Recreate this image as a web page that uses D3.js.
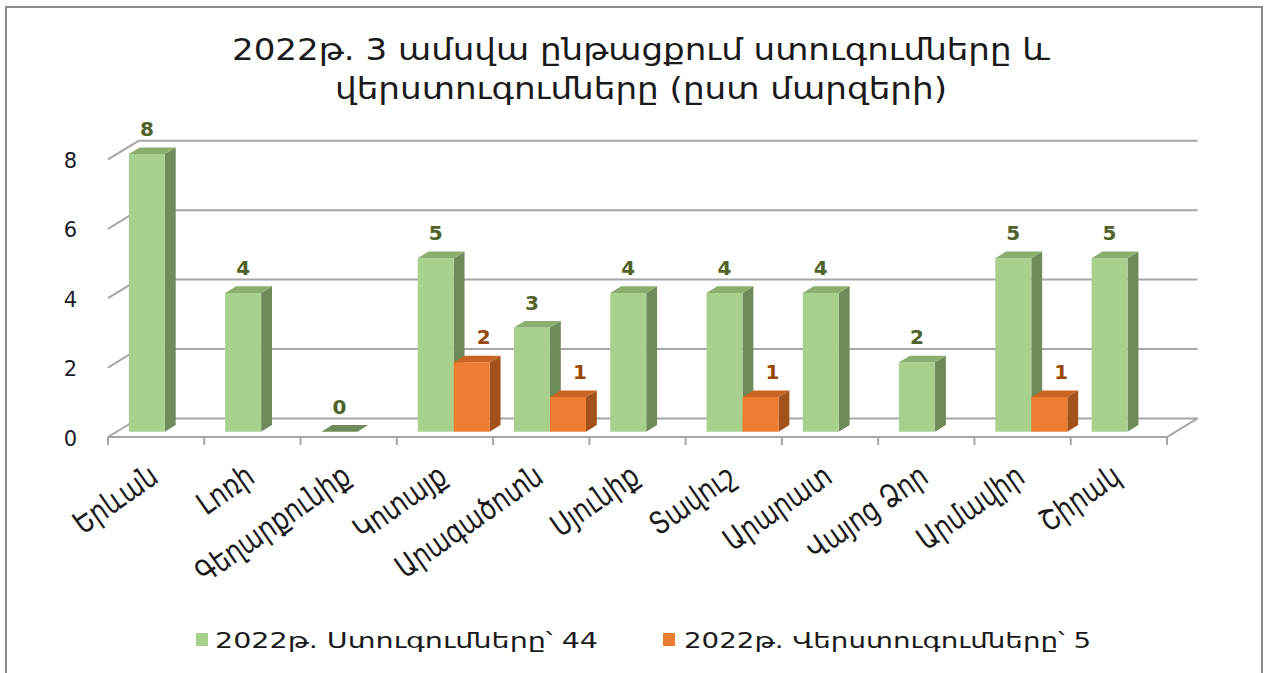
<!DOCTYPE html>
<html>
<head>
<meta charset="utf-8">
<script src="https://cdn.jsdelivr.net/npm/d3@7"></script>
<style>
  html, body { margin: 0; padding: 0; background: #fff; }
  svg { display: block; }
  text { font-family: "DejaVu Sans", sans-serif; }
</style>
</head>
<body>
<svg id="chart" width="1267" height="673"></svg>
<script>
// ---- data ----
const categories = ["Երևան", "Լոռի", "Գեղարքունիք", "Կոտայք", "Արագածոտն", "Սյունիք", "Տավուշ", "Արարատ", "Վայոց Ձոր", "Արմավիր", "Շիրակ"];
const inspections = [8, 4, 0, 5, 3, 4, 4, 4, 2, 5, 5];
const reinspections = [null, null, null, 2, 1, null, 1, null, null, 1, null];
const seriesNames = ["2022թ.  Ստուգումները՝ 44", "2022թ. Վերստուգումները՝ 5"];
const yTicks = [0, 2, 4, 6, 8];
const titleLines = ["2022թ. 3 ամսվա ընթացքում ստուգումները և", "վերստուգումները (ըստ մարզերի)"];

// ---- styles ----
const palette = [
  { front: "#A9D18E", side: "#6F8B59", top: "#8BAE6E", label: "#4F6228" },
  { front: "#ED7D31", side: "#A3521C", top: "#C96422", label: "#984807" }
];
const DX = 30.6, DY = 18.6;      // depth projection
const Z0 = 0.285, Z1 = 0.64;     // bar depth range
const barW = 36;

const svg = d3.select("#chart");

// outer border
svg.append("rect").attr("x", 6).attr("y", 7).attr("width", 1256).attr("height", 700)
  .attr("fill", "#fff").attr("stroke", "#8c8c8c").attr("stroke-width", 2);

// title
const titleY = [60, 99];
const titleW = [818, 612];
titleLines.forEach((t, i) => {
  svg.append("text").attr("x", 641).attr("y", titleY[i]).attr("text-anchor", "middle")
    .style("font-family", "'DejaVu Sans Condensed', 'DejaVu Sans', sans-serif")
    .style("font-size", "31px").attr("fill", "#1a1a1a")
    .attr("textLength", titleW[i]).attr("lengthAdjust", "spacingAndGlyphs")
    .text(t);
});

// scales
const x = d3.scaleBand().domain(categories).range([108, 1167]).paddingInner(0).paddingOuter(0);
const y = d3.scaleLinear().domain([0, 8]).range([437, 159.4]);
const P = (px, v, z) => [px + z * DX, y(v) - z * DY];

const g = svg.append("g");
const gridColor = "#a6a6a6";

// back wall gridlines + left wall diagonals
yTicks.forEach(v => {
  const a = P(x.range()[0], v, 0), b = P(x.range()[0], v, 1), c = P(x.range()[1], v, 1);
  g.append("polyline").attr("points", [a, b, c].map(p => p.join(",")).join(" "))
    .attr("fill", "none").attr("stroke", gridColor).attr("stroke-width", 2);
});
// floor front edge and right diagonal
{
  const a = P(x.range()[0], 0, 0), b = P(x.range()[1], 0, 0), c = P(x.range()[1], 0, 1);
  g.append("polyline").attr("points", [a, b, c].map(p => p.join(",")).join(" "))
    .attr("fill", "none").attr("stroke", gridColor).attr("stroke-width", 2);
}
// category tick marks
const bounds = categories.map(c => x(c)).concat([x.range()[1]]);
g.selectAll("line.tick").data(bounds).enter().append("line")
  .attr("x1", d => d).attr("x2", d => d).attr("y1", y(0)).attr("y2", y(0) + 8)
  .attr("stroke", gridColor).attr("stroke-width", 2);

// y tick labels
g.selectAll("text.ytick").data(yTicks).enter().append("text")
  .attr("x", 77).attr("y", d => y(d) + 1).attr("dy", "0.36em").attr("text-anchor", "end")
  .style("font-size", "21px").attr("fill", "#1b1b2a").text(d => d);

// bars
const pad = (x.bandwidth() - 2 * barW) / 2;
const bars = [];
categories.forEach((c, i) => {
  [inspections[i], reinspections[i]].forEach((v, s) => {
    if (v === null || v === undefined) return;
    const x0 = x(c) + pad + s * barW, x1 = x0 + barW;
    bars.push({ c, s, v, x0, x1 });
  });
});
const poly = pts => pts.map(p => p.join(",")).join(" ");
bars.forEach(b => {
  const col = palette[b.s];
  const bg = g.append("g");
  if (b.v > 0) {
    bg.append("polygon").attr("points", poly([P(b.x1, 0, Z0), P(b.x1, 0, Z1), P(b.x1, b.v, Z1), P(b.x1, b.v, Z0)]))
      .attr("fill", col.side);
    bg.append("polygon").attr("points", poly([P(b.x0, 0, Z0), P(b.x1, 0, Z0), P(b.x1, b.v, Z0), P(b.x0, b.v, Z0)]))
      .attr("fill", col.front);
  }
  bg.append("polygon").attr("points", poly([P(b.x0, b.v, Z0), P(b.x1, b.v, Z0), P(b.x1, b.v, Z1), P(b.x0, b.v, Z1)]))
    .attr("fill", b.v > 0 ? col.top : col.side);
});
// value labels
bars.forEach(b => {
  const col = palette[b.s];
  const p = P((b.x0 + b.x1) / 2, b.v, Z0);
  g.append("text").attr("x", p[0] + (b.s === 1 ? 12 : 0)).attr("y", p[1] - 18)
    .attr("text-anchor", "middle").style("font-size", "20px").style("font-weight", "bold")
    .attr("fill", col.label).text(b.v);
});

// category labels: rotated, glyphs a little taller (reference font is narrow and tall)
const SX = 1.0, SY = 1.25;
const catLabels = g.selectAll("text.cat").data(categories).enter().append("text")
  .attr("class", "cat")
  .attr("transform", d => `translate(${x(d) + x.bandwidth() / 2 + 4},${481}) rotate(-35) scale(${SX},${SY})`)
  .attr("text-anchor", "end").style("font-size", "22px").attr("fill", "#1a1a1a").text(d => d);
{
  const nodes = catLabels.nodes();
  const l0 = nodes[0].getComputedTextLength(), l2 = nodes[2].getComputedTextLength();
  if (l0 > 0 && l2 > 0) {
    const f = (91 / l0 + 187 / l2) / 2;
    const fs = Math.max(18, Math.min(30, 22 * f / SX));
    catLabels.style("font-size", fs + "px");
  }
}

// legend
const legX = [196, 663], legTextX = [215, 684], legW = [383, 407];
seriesNames.forEach((n, i) => {
  svg.append("rect").attr("x", legX[i]).attr("y", 633).attr("width", 12).attr("height", 13)
    .attr("fill", palette[i].front);
  svg.append("text").attr("x", legTextX[i]).attr("y", 648).style("font-size", "22px")
    .style("font-family", "'DejaVu Sans Condensed', 'DejaVu Sans', sans-serif")
    .attr("fill", "#1a1a1a").attr("textLength", legW[i]).attr("lengthAdjust", "spacingAndGlyphs")
    .text(n);
});
</script>
</body>
</html>
